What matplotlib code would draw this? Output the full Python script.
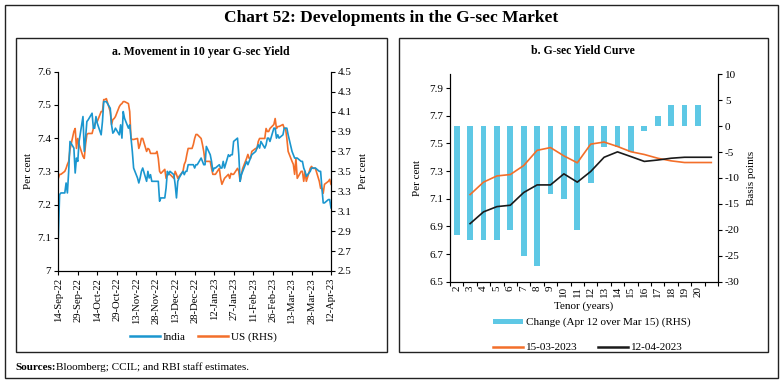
import matplotlib
matplotlib.use("Agg")
import matplotlib.pyplot as plt
import matplotlib.dates as mdates
from matplotlib.patches import Rectangle
from matplotlib.lines import Line2D
from matplotlib.ticker import FuncFormatter, FixedLocator
import pandas as pd
import numpy as np

plt.rcParams['font.family'] = ['Liberation Serif', 'DejaVu Serif']

# ---------------- Panel a data (business days 14-Sep-22 .. 12-Apr-23) ----------------
start_date = "2022-09-14"
end_date = "2023-04-12"
india = [7.10, 7.23, 7.235, 7.235, 7.265,
         7.235, 7.30, 7.39, 7.37, 7.295,
         7.34, 7.33, 7.39, 7.465, 7.36,
         7.40, 7.45, 7.455, 7.475, 7.43,
         7.43, 7.465, 7.445, 7.41, 7.45,
         7.51, 7.51, 7.51, 7.49, 7.44,
         7.415, 7.42, 7.43, 7.41, 7.44,
         7.40, 7.48, 7.46, 7.43, 7.44,
         7.40, 7.36, 7.31, 7.28, 7.265,
         7.28, 7.30, 7.31, 7.27, 7.30,
         7.28, 7.29, 7.27, 7.27, 7.27,
         7.27, 7.21, 7.22, 7.22, 7.25,
         7.30, 7.29, 7.30, 7.29, 7.26,
         7.22, 7.27, 7.28, 7.30, 7.29,
         7.30, 7.30, 7.32, 7.32, 7.32,
         7.31, 7.32, 7.32, 7.34, 7.33,
         7.32, 7.32, 7.375, 7.35, 7.33,
         7.30, 7.31, 7.31, 7.32, 7.31,
         7.31, 7.33, 7.31, 7.35, 7.345,
         7.35, 7.35, 7.39, 7.40, 7.35,
         7.27, 7.29, 7.30, 7.33, 7.32,
         7.33, 7.34, 7.35, 7.36, 7.37,
         7.38, 7.37, 7.39, 7.37, 7.38,
         7.40, 7.40, 7.39, 7.43, 7.43,
         7.40, 7.41, 7.40, 7.41, 7.43,
         7.43, 7.43, 7.41, 7.36, 7.35,
         7.34, 7.34, 7.34, 7.33, 7.33,
         7.31, 7.30, 7.285, 7.30, 7.31,
         7.31, 7.31, 7.31, 7.30, 7.30,
         7.25, 7.205, 7.205, 7.215, 7.215,
         7.19]
us = [3.43, 3.47, 3.47, 3.50, 3.53,
      3.57, 3.60, 3.72, 3.90, 3.93,
      3.73, 3.83, 3.77, 3.65, 3.63,
      3.77, 3.87, 3.88, 3.88, 3.93,
      3.97, 4.00, 4.00, 4.10, 4.10,
      4.22, 4.22, 4.23, 4.10, 3.97,
      4.02, 4.03, 4.05, 4.15, 4.17,
      4.18, 4.20, 4.20, 4.18, 4.10,
      3.83, 3.82, 3.82, 3.83, 3.73,
      3.77, 3.83, 3.83, 3.70, 3.73,
      3.72, 3.68, 3.68, 3.68, 3.70,
      3.63, 3.50, 3.48, 3.52, 3.43,
      3.47, 3.47, 3.47, 3.43, 3.50,
      3.47, 3.43, 3.45, 3.50, 3.57,
      3.60, 3.67, 3.73, 3.73, 3.77,
      3.83, 3.87, 3.87, 3.83, 3.77,
      3.70, 3.60, 3.60, 3.60, 3.53,
      3.47, 3.47, 3.47, 3.53, 3.43,
      3.37, 3.40, 3.43, 3.47, 3.43,
      3.48, 3.47, 3.47, 3.53, 3.50,
      3.40, 3.47, 3.53, 3.63, 3.67,
      3.63, 3.63, 3.70, 3.73, 3.73,
      3.80, 3.83, 3.83, 3.83, 3.93,
      3.90, 3.90, 3.93, 3.97, 4.03,
      3.93, 3.95, 3.95, 3.97, 3.93,
      3.93, 3.83, 3.70, 3.60, 3.57,
      3.47, 3.63, 3.43, 3.50, 3.50,
      3.40, 3.50, 3.40, 3.53, 3.55,
      3.53, 3.53, 3.53, 3.40, 3.33,
      3.33, 3.28, 3.37, 3.40, 3.42,
      3.37]
date_ticks = ["2022-09-14", "2022-09-29", "2022-10-14", "2022-10-29", "2022-11-13",
              "2022-11-28", "2022-12-13", "2022-12-28", "2023-01-12", "2023-01-27",
              "2023-02-11", "2023-02-26", "2023-03-13", "2023-03-28", "2023-04-12"]

# ---------------- Panel b data ----------------
tenor_labels = ["2", "3", "4", "5", "6", "7", "8", "9", "10", "11", "12", "13", "14",
                "15", "16", "17", "18", "19", "20", ""]
change_bp = [-21, -22, -22, -22, -20, -25, -27, -13, -14, -20, -11, -4, -4, -5, -1, 2, 4, 4, 4]
curve_mar15 = [7.13, 7.22, 7.265, 7.275, 7.34, 7.45, 7.47, 7.41, 7.36, 7.495, 7.51,
               7.478, 7.44, 7.42, 7.393, 7.374, 7.362, 7.362, 7.362]
curve_apr12 = [6.92, 7.005, 7.043, 7.053, 7.145, 7.20, 7.20, 7.28, 7.22, 7.297, 7.40,
               7.439, 7.405, 7.37, 7.38, 7.393, 7.40, 7.40, 7.40]

c_india = "#1a96cf"
c_us = "#f36f2a"
c_bar = "#5ec8e5"
c_black = "#1a1a1a"

W, H = 783, 383
fig = plt.figure(figsize=(W / 100, H / 100), dpi=100)

def fx(px):
    return px / W

def fy(py):
    return 1 - py / H

def box(x0, y0, x1, y1, lw=1.0):
    fig.add_artist(Rectangle((fx(x0), fy(y1)), fx(x1) - fx(x0), fy(y0) - fy(y1),
                             transform=fig.transFigure, fill=False, lw=lw, ec="#222222"))

box(5, 5, 778, 378, 1.0)
box(15.5, 38, 387, 352, 1.0)
box(398.5, 38, 768, 352, 1.0)

fig.text(fx(391), fy(18), "Chart 52: Developments in the G-sec Market", ha="center",
         va="center", fontsize=12.5, fontweight="bold")
fig.text(fx(15), fy(366), "Sources:", ha="left", va="center_baseline", fontsize=8,
         fontweight="bold")
fig.text(fx(56), fy(366), "Bloomberg; CCIL; and RBI staff estimates.", ha="left",
         va="center_baseline", fontsize=8)

tick_fs = 8
lab_fs = 8

# ---------------- Panel a ----------------
dates = pd.bdate_range(start_date, end_date)
axa = fig.add_axes([fx(58.3), fy(271), fx(331) - fx(58.3), fy(71.7) - fy(271)])
axa.plot(dates, india, color=c_india, lw=1.2)
axa.set_ylim(7.0, 7.6)
axa.set_yticks(np.round(np.arange(7.0, 7.61, 0.1), 1))
axa.yaxis.set_major_formatter(FuncFormatter(lambda v, p: f"{v:g}"))
axa.set_xlim(pd.Timestamp(start_date), pd.Timestamp(end_date))
axa.set_xticks(pd.to_datetime(date_ticks))
axa.xaxis.set_major_formatter(mdates.DateFormatter("%d-%b-%y"))
for lab in axa.get_xticklabels():
    lab.set_rotation(90)
axa.tick_params(axis="y", labelsize=tick_fs, length=3, width=0.8, pad=2)
axa.tick_params(axis="x", labelsize=7.7, length=3, width=0.8, pad=2)
axa.spines["top"].set_visible(False)
axa.set_ylabel("Per cent", fontsize=lab_fs, labelpad=3)

axa2 = axa.twinx()
axa2.plot(dates, us, color=c_us, lw=1.2)
axa2.set_ylim(2.5, 4.5)
axa2.set_yticks(np.round(np.arange(2.5, 4.51, 0.2), 1))
axa2.yaxis.set_major_formatter(FuncFormatter(lambda v, p: f"{v:.1f}"))
axa2.tick_params(axis="y", labelsize=tick_fs, length=3, width=0.8, pad=2)
axa2.spines["top"].set_visible(False)
axa2.set_ylabel("Per cent", fontsize=lab_fs, labelpad=5)
axa.set_zorder(axa2.get_zorder() + 1)
axa.patch.set_visible(False)

fig.text(fx(201), fy(51.5), "a. Movement in 10 year G-sec Yield", ha="center",
         va="center", fontsize=8.5, fontweight="bold")

# legend a
ly = fy(336)
fig.add_artist(Line2D([fx(130), fx(160)], [ly, ly], color=c_india, lw=1.8,
                      transform=fig.transFigure))
fig.text(fx(163), ly, "India", ha="left", va="center_baseline", fontsize=lab_fs)
fig.add_artist(Line2D([fx(198), fx(228)], [ly, ly], color=c_us, lw=1.8,
                      transform=fig.transFigure))
fig.text(fx(231), ly, "US (RHS)", ha="left", va="center_baseline", fontsize=lab_fs)

# ---------------- Panel b ----------------
axb = fig.add_axes([fx(450), fy(281.7), fx(718) - fx(450), fy(74.3) - fy(281.7)])
axb2 = axb.twinx()
pos = np.arange(len(tenor_labels))
axb2.bar(pos[:len(change_bp)], change_bp, width=0.42, color=c_bar, zorder=1)
axb2.set_ylim(-30, 10)
axb2.set_yticks(np.arange(-30, 11, 5))
axb2.yaxis.set_major_formatter(FuncFormatter(lambda v, p: f"{int(round(v))}"))
axb2.tick_params(axis="y", labelsize=tick_fs, length=3, width=0.8, pad=2)
axb2.spines["top"].set_visible(False)
axb2.set_ylabel("Basis points", fontsize=lab_fs, labelpad=5)

axb.plot(pos[1:1 + len(curve_mar15)], curve_mar15, color=c_us, lw=1.2)
axb.plot(pos[1:1 + len(curve_apr12)], curve_apr12, color=c_black, lw=1.2)
axb.set_zorder(axb2.get_zorder() + 1)
axb.patch.set_visible(False)
axb.set_ylim(6.5, 8.0)
axb.set_yticks(np.round(np.arange(6.5, 7.91, 0.2), 1))
axb.yaxis.set_major_formatter(FuncFormatter(lambda v, p: f"{v:.1f}"))
axb.set_xlim(-0.5, len(tenor_labels) - 0.5)
axb.set_xticks(pos)
axb.set_xticklabels(tenor_labels, rotation=90)
axb.xaxis.set_minor_locator(FixedLocator(np.arange(-0.5, len(tenor_labels), 1.0)))
axb.tick_params(axis="x", which="major", length=0, labelsize=tick_fs, pad=3)
axb.tick_params(axis="x", which="minor", length=3, width=0.8)
axb.tick_params(axis="y", labelsize=tick_fs, length=3, width=0.8, pad=2)
axb.spines["top"].set_visible(False)
axb.set_ylabel("Per cent", fontsize=lab_fs, labelpad=5)
axb.set_xlabel("Tenor (years)", fontsize=lab_fs, labelpad=3)

fig.text(fx(583), fy(51.5), "b. G-sec Yield Curve", ha="center", va="center",
         fontsize=8.5, fontweight="bold")

# legend b
fig.add_artist(Rectangle((fx(493), fy(323.5)), fx(523) - fx(493), fy(318.5) - fy(323.5),
                         transform=fig.transFigure, color=c_bar, lw=0))
fig.text(fx(526), fy(321), "Change (Apr 12 over Mar 15) (RHS)", ha="left",
         va="center_baseline", fontsize=lab_fs)
ly2 = fy(346.5)
fig.add_artist(Line2D([fx(493), fx(523)], [ly2, ly2], color=c_us, lw=1.8,
                      transform=fig.transFigure))
fig.text(fx(526), ly2, "15-03-2023", ha="left", va="center_baseline", fontsize=lab_fs)
fig.add_artist(Line2D([fx(598), fx(628)], [ly2, ly2], color=c_black, lw=1.8,
                      transform=fig.transFigure))
fig.text(fx(631), ly2, "12-04-2023", ha="left", va="center_baseline", fontsize=lab_fs)

fig.savefig("out.png", dpi=100)
